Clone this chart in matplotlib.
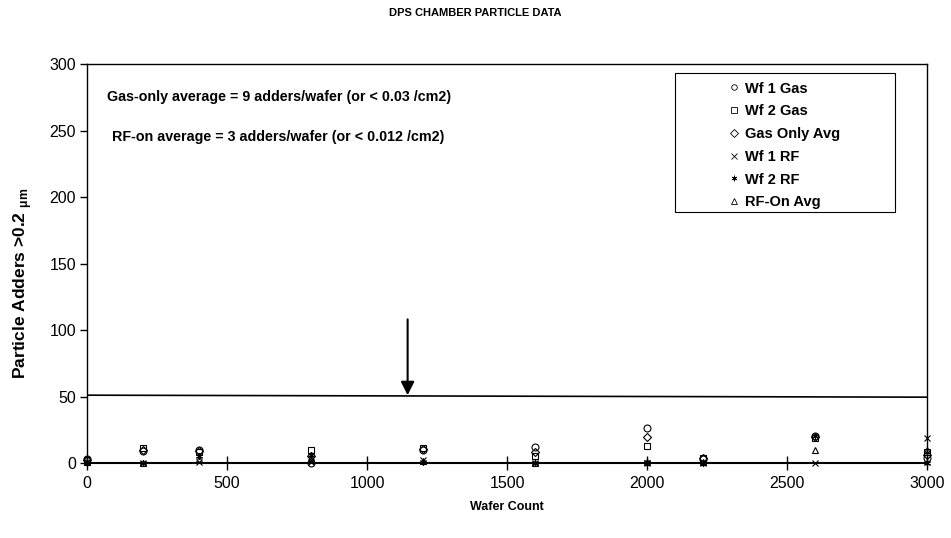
import matplotlib
matplotlib.use("Agg")
import matplotlib.pyplot as plt
from matplotlib.patches import Rectangle

plt.rcParams["font.family"] = ["Liberation Sans", "DejaVu Sans"]

wafer_count = [0, 200, 400, 800, 1200, 1600, 2000, 2200, 2600, 3000]
wf1_gas = [3, 9, 10, 0, 10, 12, 26, 3, 20, 4]
wf2_gas = [2, 11, 8, 10, 11, 5, 13, 4, 19, 8]
gas_avg = [2.5, 10, 9, 5, 10.5, 8.5, 19.5, 3.5, 19.5, 6]
wf1_rf = [1, 0, 1, 1, 2, 0, 0, 0, 0, 19]
wf2_rf = [0, 0, 5, 6, 1, 0, 1, 0, 20, 0]
rf_avg = [0.5, 0, 3, 3.5, 1.5, 0, 0.5, 1, 10, 9.5]

limit_x = [0, 3000]
limit_y = [51, 49.5]
arrow_x = 1145
arrow_from = 108
arrow_to = 51

series = [
    ("Wf 1 Gas", wf1_gas, "o"),
    ("Wf 2 Gas", wf2_gas, "s"),
    ("Gas Only Avg", gas_avg, "D"),
    ("Wf 1 RF", wf1_rf, "x"),
    ("Wf 2 RF", wf2_rf, (6, 2, 0)),
    ("RF-On Avg", rf_avg, "^"),
]

fig = plt.figure(figsize=(9.51, 5.38), dpi=100)
ax = fig.add_axes([0.0915, 0.1394, 0.8833, 0.7416])

for label, vals, m in series:
    size = 4 if m == "D" else 5
    ax.plot(wafer_count, vals, linestyle="none", marker=m, markersize=size,
            markerfacecolor="none", markeredgecolor="black", markeredgewidth=0.8,
            color="black", label=label, clip_on=False, zorder=3)

ax.plot(limit_x, limit_y, color="black", linewidth=1.2)
ax.annotate("", xy=(arrow_x, arrow_to), xytext=(arrow_x, arrow_from),
            arrowprops=dict(arrowstyle="-|>", color="black", lw=1.5,
                            mutation_scale=20, shrinkA=0, shrinkB=0))

ax.text(70, 275, "Gas-only average = 9 adders/wafer (or < 0.03 /cm2)",
        fontsize=10.3, fontweight="bold", va="center", ha="left")
ax.text(88, 245, "RF-on average = 3 adders/wafer (or < 0.012 /cm2)",
        fontsize=10.3, fontweight="bold", va="center", ha="left")

ax.set_xlim(0, 3000)
ax.set_ylim(0, 300)
ax.set_xticks(range(0, 3001, 500))
ax.set_yticks(range(0, 301, 50))
ax.tick_params(axis="x", direction="inout", length=10, width=1, labelsize=11.5, pad=4)
ax.tick_params(axis="y", direction="out", length=5, width=1, labelsize=11.5, pad=3)
for s in ax.spines.values():
    s.set_linewidth(1)
ax.spines["bottom"].set_linewidth(1.5)

ax.set_xlabel("Wafer Count", fontsize=9, fontweight="bold")
ax.xaxis.set_label_coords(0.5, -0.095)
ax.set_ylabel(r"Particle Adders >0.2 $_{\mathregular{\mu m}}$", fontsize=12.5,
              fontweight="bold")
ax.yaxis.set_label_coords(-0.063, 0.45)
fig.suptitle("DPS CHAMBER PARTICLE DATA", fontsize=8, fontweight="bold", y=0.985)

# legend box drawn like the original (wide padding on the left)
ax.add_patch(Rectangle((0.70, 0.629), 0.262, 0.348, transform=ax.transAxes,
                       facecolor="white", edgecolor="black", linewidth=0.8, zorder=4))
leg = ax.legend(loc="upper left", bbox_to_anchor=(0.761, 0.956),
                prop={"weight": "bold", "size": 10.5}, frameon=False,
                handlelength=1.0, handletextpad=0.3, borderpad=0,
                labelspacing=0.6, borderaxespad=0)
leg.set_zorder(5)
for h in leg.legend_handles:
    h.set_markersize(4)
    h.set_markeredgewidth(0.6)

fig.savefig("out.png", dpi=100)
plt.close(fig)
